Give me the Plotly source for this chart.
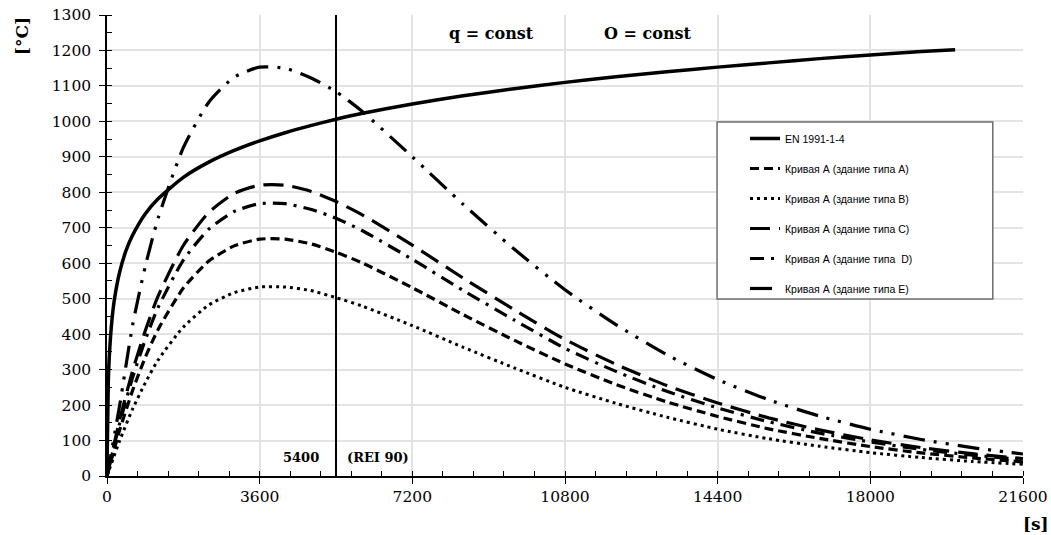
import plotly.graph_objects as go

# ---- data ----
t_en = [0, 30, 60, 120, 180, 300, 450, 600, 900, 1200, 1800, 2400, 3000, 3600, 4200, 4800, 5400,
        6000, 7200, 8400, 9600, 10800, 12000, 13200, 14400, 15600, 16800, 18000, 19200, 20000]
T_en = [20, 261, 349, 444, 502, 576, 636, 678, 739, 781, 842, 885, 918, 945, 968, 988, 1006,
        1022, 1049, 1072, 1092, 1110, 1126, 1140, 1153, 1165, 1177, 1187, 1197, 1202]

t = [0, 300, 600, 900, 1200, 1800, 2400, 3000, 3600, 4200, 4800, 5400, 6000, 7200,
     8400, 9600, 10800, 12000, 13200, 14400, 15600, 16800, 18000, 19200, 20400, 21600]
T_A = [0, 130, 240, 334, 412, 530, 606, 649, 668, 668, 655, 631, 602, 531,
       455, 383, 316, 258, 209, 168, 133, 106, 83, 65, 51, 40]
T_B = [0, 100, 188, 262, 326, 420, 482, 517, 533, 533, 523, 503, 480, 424,
       363, 305, 250, 205, 166, 132, 105, 84, 66, 52, 41, 33]
T_C = [0, 159, 295, 409, 506, 650, 743, 797, 820, 820, 803, 774, 738, 651,
       558, 469, 385, 315, 255, 206, 164, 130, 102, 80, 63, 49]
T_D = [0, 149, 276, 383, 474, 609, 696, 746, 768, 768, 752, 727, 693, 611,
       523, 440, 360, 295, 239, 192, 153, 121, 96, 75, 59, 46]
T_E = [0, 200, 423, 590, 725, 926, 1054, 1125, 1153, 1150, 1123, 1084, 1030, 900,
       766, 640, 525, 427, 342, 272, 215, 169, 132, 103, 80, 62]

names = ["EN 1991-1-4",
         "Кривая А (здание типа А)",
         "Кривая А (здание типа В)",
         "Кривая А (здание типа С)",
         "Кривая А (здание типа  D)",
         "Кривая А (здание типа Е)"]

x_ticks = [0, 3600, 7200, 10800, 14400, 18000, 21600]
x_ticktext = ["0", "3600", "7200", "10800", "14400", "18000", "21600"]
y_ticks = list(range(0, 1301, 100))
t_rei = 5400

fig = go.Figure()

series = [
    (t_en, T_en, names[0], "solid", 3.5),
    (t, T_A, names[1], "9px,5px", 3.2),
    (t, T_B, names[2], "3px,4px", 3),
    (t, T_C, names[3], "20px,9px", 3.2),
    (t, T_D, names[4], "14px,7px,3px,7px", 3.2),
    (t, T_E, names[5], "22px,9px,3px,9px,3px,9px", 3.2),
]
for i, (xs, ys, nm, dash, w) in enumerate(series):
    fig.add_trace(go.Scatter(
        x=xs, y=ys, name=nm, mode="lines", legendgroup=f"g{i}",
        line=dict(color="black", width=w, dash=dash, shape="spline", smoothing=0.6),
    ))

fig.add_shape(type="line", x0=t_rei, x1=t_rei, y0=0, y1=1300, xref="x", yref="y",
              line=dict(color="black", width=2))
# legend frame
fig.add_shape(type="rect", xref="paper", yref="paper", x0=0.666, x1=0.967, y0=0.384, y1=0.768,
              fillcolor="white", line=dict(color="#6e6e6e", width=1.5), layer="above")

bold = dict(family="DejaVu Serif", size=13, color="black")
fig.add_annotation(x=t_rei, y=51, xref="x", yref="y", text="<b>5400</b>", showarrow=False,
                   xanchor="right", yanchor="middle", xshift=-15, font=bold)
fig.add_annotation(x=t_rei, y=51, xref="x", yref="y", text="<b>(REI 90)</b>", showarrow=False,
                   xanchor="left", yanchor="middle", xshift=9, font=bold)
big = dict(family="DejaVu Serif", size=16, color="black")
fig.add_annotation(x=0.420, y=0.959, xref="paper", yref="paper", text="<b>q = const</b>",
                   showarrow=False, xanchor="center", yanchor="middle", font=big)
fig.add_annotation(x=0.5906, y=0.959, xref="paper", yref="paper", text="<b>O = const</b>",
                   showarrow=False, xanchor="center", yanchor="middle", font=big)
fig.add_annotation(x=-0.0928, y=1.0, xref="paper", yref="paper", text="<b>[°C]</b>",
                   showarrow=False, textangle=-90, xanchor="center", yanchor="top",
                   font=dict(family="DejaVu Serif", size=17, color="black"))
fig.add_annotation(x=1.0142, y=-0.104, xref="paper", yref="paper", text="<b>[s]</b>",
                   showarrow=False, xanchor="center", yanchor="middle",
                   font=dict(family="DejaVu Serif", size=17, color="black"))

tickfont = dict(family="DejaVu Serif", size=15.5, color="black")
fig.update_xaxes(range=[0, 21600], tickvals=x_ticks, ticktext=x_ticktext, showgrid=True,
                 gridcolor="#e3e3e3", gridwidth=1.5, showline=True, linecolor="black",
                 linewidth=1.5, ticks="outside", ticklen=6, tickcolor="black", tickfont=tickfont,
                 minor=dict(dtick=720, ticks="inside", ticklen=5, tickcolor="black", showgrid=False),
                 zeroline=False, automargin=False)
fig.update_yaxes(range=[0, 1300], tickvals=y_ticks, showgrid=True, gridcolor="#e3e3e3",
                 gridwidth=1.5, showline=True, linecolor="black", linewidth=1.5,
                 ticks="outside", ticklen=6, tickcolor="black", tickfont=tickfont,
                 ticklabelstandoff=5,
                 minor=dict(dtick=50, ticks="inside", ticklen=5, tickcolor="black", showgrid=False),
                 zeroline=False, automargin=False)

fig.update_layout(
    width=1051, height=535, plot_bgcolor="white", paper_bgcolor="white",
    margin=dict(l=107, r=28, t=15, b=59, autoexpand=False),
    legend=dict(x=0.6965, y=0.7636, xanchor="left", yanchor="top", bgcolor="rgba(0,0,0,0)",
                borderwidth=0, tracegroupgap=11,
                font=dict(family="Liberation Sans", size=10.5, color="black")),
)

fig.write_html("out.html")
